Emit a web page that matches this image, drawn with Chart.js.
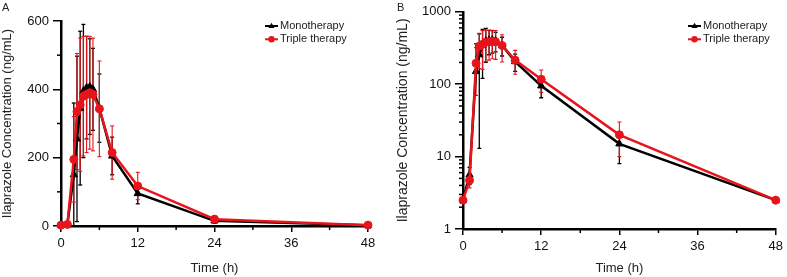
<!DOCTYPE html>
<html>
<head>
<meta charset="utf-8">
<script src="https://cdn.jsdelivr.net/npm/chart.js@4.4.1/dist/chart.umd.min.js"></script>
<style>
  body { margin: 0; background: #fff; }
  #wrap { position: relative; width: 787px; height: 277px; overflow: hidden; }
  canvas { position: absolute; top: 0; }
</style>
</head>
<body>
<div id="wrap">
  <canvas id="chartA" width="400" height="277" style="left:0px"></canvas>
  <canvas id="chartB" width="391" height="277" style="left:396px"></canvas>
</div>
<script>
// sampling times (h)
const times = [0, 1, 2, 2.5, 3, 3.5, 4, 4.5, 5, 6, 8, 12, 24, 48]
// mean and SD, ng/mL
const monoMean = [2.5, 5.6, 150, 255, 345, 395, 405, 408, 400, 345, 205, 95, 15, 2.5]
const monoSD = [0, 1.5, 210, 242, 225, 195, 150, 140, 120, 100, 55, 30, 7, 0.2]
const tripleMean = [2.5, 4.7, 195, 335, 355, 380, 385, 390, 385, 343, 215, 117, 20, 2.5]
const tripleSD = [0, 1, 125, 170, 195, 175, 170, 165, 165, 140, 78, 40, 10, 0.2]

const seriesNames = ['Monotherapy', 'Triple therapy']
const panelLetters = ['A', 'B']
const xTitle = 'Time (h)'
const yTitle = 'Ilaprazole Concentration (ng/mL)'

const xTicks = [0, 12, 24, 36, 48]
const xMinor = [6, 18, 30, 42]
const linTicks = [0, 200, 400, 600]
const linMinor = [100, 300, 500]
const logTicks = [1, 10, 100, 1000]
const logMinor = [2, 3, 4, 5, 6, 7, 8, 9, 20, 30, 40, 50, 60, 70, 80, 90, 200, 300, 400, 500, 600, 700, 800, 900]

const FONT = '"Liberation Sans", Arial, sans-serif'
Chart.defaults.font.family = FONT

function points(means) {
  return times.map((t, i) => ({ x: t, y: means[i] }))
}

function line(ctx, x1, y1, x2, y2) {
  ctx.beginPath()
  ctx.moveTo(x1, y1)
  ctx.lineTo(x2, y2)
  ctx.stroke()
}

function marker(ctx, style, x, y, r, color) {
  ctx.fillStyle = color
  ctx.beginPath()
  if (style === 'triangle') {
    ctx.moveTo(x, y - r)
    ctx.lineTo(x + r * 0.95, y + r * 0.6)
    ctx.lineTo(x - r * 0.95, y + r * 0.6)
    ctx.closePath()
  } else {
    ctx.arc(x, y, r, 0, Math.PI * 2)
  }
  ctx.fill()
}

// SD whiskers, drawn under the lines
const errorBars = {
  id: 'errorBars',
  beforeDatasetsDraw(chart) {
    const { ctx, chartArea, scales } = chart
    const xs = scales.x, ys = scales.y
    const isLog = ys.type === 'logarithmic'
    ctx.save()
    ctx.beginPath()
    ctx.rect(chartArea.left, chartArea.top - 3, chartArea.right - chartArea.left, chartArea.bottom - chartArea.top + 3)
    ctx.clip()
    chart.data.datasets.forEach((ds) => {
      ctx.strokeStyle = ds.barColor
      ctx.lineWidth = ds.barWidth
      ds.data.forEach((p, i) => {
        const sd = ds.sd[i]
        if (!sd) return
        const px = xs.getPixelForValue(p.x)
        const top = ys.getPixelForValue(p.y + sd)
        const lo = p.y - sd
        const hasLow = !(isLog && lo <= 0)
        const bot = hasLow ? ys.getPixelForValue(lo) : ys.getPixelForValue(p.y)
        line(ctx, px, top, px, bot)
        line(ctx, px - 2, top, px + 2, top)
        if (hasLow) line(ctx, px - 2, bot, px + 2, bot)
      })
    })
    ctx.restore()
  }
}

// minor ticks, axis titles, panel letter, legend
const decorations = {
  id: 'decorations',
  afterDraw(chart, args, opts) {
    const { ctx, chartArea, scales } = chart
    ctx.save()
    ctx.strokeStyle = '#000'
    ctx.lineWidth = 1.5
    xMinor.forEach((v) => {
      const px = scales.x.getPixelForValue(v)
      line(ctx, px, chartArea.bottom, px, chartArea.bottom + 4)
    })
    opts.yMinor.forEach((v) => {
      const py = scales.y.getPixelForValue(v)
      line(ctx, chartArea.left - 4, py, chartArea.left, py)
    })

    ctx.fillStyle = '#222'
    ctx.textAlign = 'center'
    ctx.textBaseline = 'middle'
    ctx.font = '13px ' + FONT
    ctx.fillText(xTitle, (chartArea.left + chartArea.right) / 2, opts.xTitleY)

    ctx.save()
    ctx.translate(opts.yTitleX, (chartArea.top + chartArea.bottom) / 2)
    ctx.rotate(-Math.PI / 2)
    ctx.font = opts.yTitleSize + 'px ' + FONT
    ctx.fillText(yTitle, 0, 0)
    ctx.restore()

    ctx.textAlign = 'left'
    ctx.textBaseline = 'top'
    ctx.font = '11px ' + FONT
    ctx.fillText(opts.letter, opts.letterX, 2)

    ctx.textBaseline = 'middle'
    chart.data.datasets.forEach((ds, i) => {
      const ly = opts.legendY + i * 13.3
      const lx = opts.legendX
      ctx.strokeStyle = ds.borderColor
      ctx.lineWidth = 2
      line(ctx, lx, ly, lx + 13, ly)
      marker(ctx, ds.pointStyle, lx + 6.5, ly, 3.2, ds.borderColor)
      ctx.fillStyle = '#222'
      ctx.fillText(ds.label, lx + 15, ly)
    })
    ctx.restore()
  }
}

function datasets() {
  return [
    {
      label: seriesNames[0],
      data: points(monoMean),
      sd: monoSD,
      borderColor: '#000',
      backgroundColor: '#000',
      barColor: '#000',
      barWidth: 1.3,
      borderWidth: 2.5,
      pointStyle: 'triangle',
      pointRadius: 4.2,
      pointBorderWidth: 1,
      tension: 0,
      order: 2,
      clip: false,
    },
    {
      label: seriesNames[1],
      data: points(tripleMean),
      sd: tripleSD,
      borderColor: '#e8141b',
      backgroundColor: '#e8141b',
      barColor: '#e8141b',
      barWidth: 1.1,
      borderWidth: 2.5,
      pointStyle: 'circle',
      pointRadius: 4,
      pointBorderWidth: 1,
      tension: 0,
      order: 1,
      clip: false,
    },
  ]
}

function makeChart(id, yType, yMin, yMax, yMajor, deco, yWidth, xHeight, padding) {
  return new Chart(document.getElementById(id), {
    type: 'line',
    data: { datasets: datasets() },
    plugins: [errorBars, decorations],
    options: {
      responsive: false,
      animation: false,
      devicePixelRatio: 1,
      layout: { padding },
      plugins: {
        legend: { display: false },
        tooltip: { enabled: false },
        decorations: deco,
      },
      scales: {
        x: {
          type: 'linear',
          min: 0,
          max: 48,
          afterBuildTicks: (s) => { s.ticks = xTicks.map((v) => ({ value: v })) },
          afterFit: (s) => { s.height = xHeight },
          grid: { drawOnChartArea: false, drawTicks: true, tickLength: 6, color: '#000', lineWidth: 1.5 },
          border: { display: true, color: '#000', width: 2.5 },
          ticks: { font: { size: 13 }, color: '#111', padding: 4, maxRotation: 0, callback: (v) => String(v) },
        },
        y: {
          type: yType,
          min: yMin,
          max: yMax,
          afterBuildTicks: (s) => { s.ticks = yMajor.map((v) => ({ value: v })) },
          afterFit: (s) => { s.width = yWidth },
          grid: { drawOnChartArea: false, drawTicks: true, tickLength: 8, color: '#000', lineWidth: 1.5 },
          border: { display: true, color: '#000', width: 2.5 },
          ticks: { font: { size: 13 }, color: '#111', padding: 4, callback: (v) => String(v) },
        },
      },
    },
  })
}

makeChart('chartA', 'linear', 0, 600, linTicks,
  { letter: panelLetters[0], letterX: 2, yMinor: linMinor, xTitleY: 268, yTitleX: 7, yTitleSize: 13, legendX: 265, legendY: 26 },
  61, 51, { top: 21, right: 32, left: 0, bottom: 0 })

makeChart('chartB', 'logarithmic', 1, 1000, logTicks,
  { letter: panelLetters[1], letterX: 1, yMinor: logMinor, xTitleY: 268, yTitleX: 7, yTitleSize: 14, legendX: 292, legendY: 26 },
  67, 48, { top: 10, right: 10, left: 0, bottom: 0 })
</script>
</body>
</html>
